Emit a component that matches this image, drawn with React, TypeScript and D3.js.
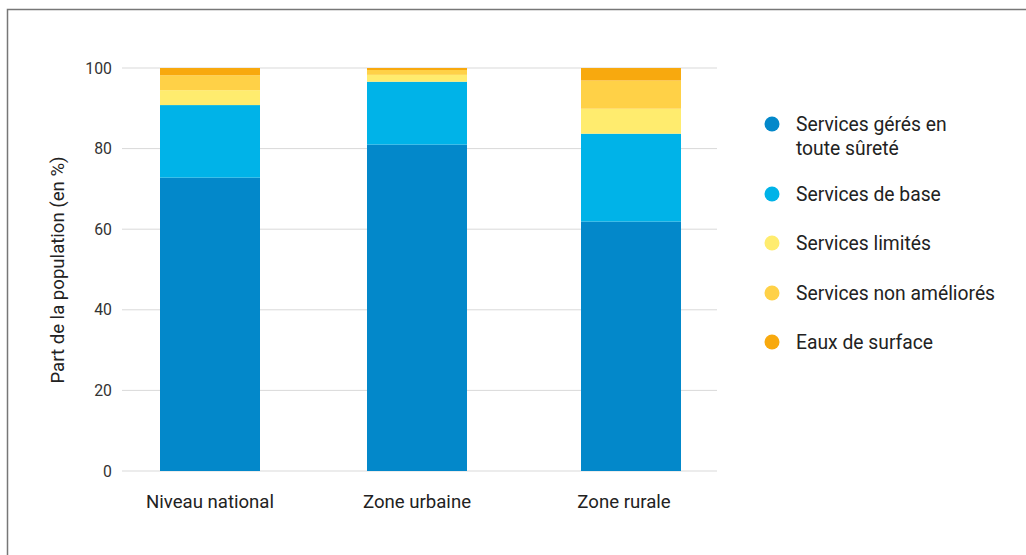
import React from "react";
import * as d3 from "d3";

const categories = ["Niveau national", "Zone urbaine", "Zone rurale"];
const seriesNames = [
  "Services gérés en toute sûreté",
  "Services de base",
  "Services limités",
  "Services non améliorés",
  "Eaux de surface",
];
const legendLines = [
  ["Services gérés en", "toute sûreté"],
  ["Services de base"],
  ["Services limités"],
  ["Services non améliorés"],
  ["Eaux de surface"],
];
const safelyManaged = [72.8, 81.0, 61.9];
const basic = [18.0, 15.6, 21.8];
const limited = [3.7, 1.7, 6.2];
const unimproved = [3.7, 1.2, 7.0];
const surface = [1.8, 0.5, 3.1];
const yTicks = [0, 20, 40, 60, 80, 100];
const colors = ["#0388ca", "#00b3e8", "#ffec6e", "#ffd147", "#f8a90e"];

export default function App() {
  const W = 1026, H = 555;
  const seriesValues = [safelyManaged, basic, limited, unimproved, surface];
  const data = categories.map((c, i) => {
    const o: any = { cat: c };
    seriesNames.forEach((s, j) => (o[s] = seriesValues[j][i]));
    return o;
  });
  const stack = d3.stack<any>().keys(seriesNames)(data);
  const y = d3.scaleLinear().domain([0, 100]).range([471, 68]);
  const x = d3.scaleOrdinal<string, number>().domain(categories).range([210, 417, 631]);
  const labelX = d3.scaleOrdinal<string, number>().domain(categories).range([210, 417, 624]);
  const bw = 100;
  const font = "Roboto, 'Noto Sans', sans-serif";
  return (
    <svg width={W} height={H} style={{ position: "absolute", left: 0, top: 0 }} fontFamily={font}>
      <rect x={0} y={0} width={W} height={H} fill="#fff" />
      <rect x={7.5} y={9.5} width={W + 10} height={H + 10} fill="none" stroke="#777" strokeWidth={1.5} />
      {yTicks.map((t) => (
        <g key={t}>
          <line x1={122} x2={717} y1={y(t)} y2={y(t)} stroke="#d9d9d9" strokeWidth={1} />
          <text x={112} y={y(t)} dy="0.35em" textAnchor="end" fontSize={15.8} fill="#333">
            {t}
          </text>
        </g>
      ))}
      {stack.map((s, j) => (
        <g key={s.key} fill={colors[j]}>
          {s.map((d, i) => (
            <rect
              key={i}
              x={x(categories[i]) - bw / 2}
              y={y(d[1])}
              width={bw}
              height={y(d[0]) - y(d[1])}
            />
          ))}
        </g>
      ))}
      {categories.map((c) => (
        <text key={c} x={labelX(c)} y={508} textAnchor="middle" fontSize={18.6} fill="#222">
          {c}
        </text>
      ))}
      <text
        transform="translate(64,270) rotate(-90)"
        textAnchor="middle"
        fontSize={18.6}
        fill="#222"
      >
        Part de la population (en %)
      </text>
      {legendLines.map((lines, j) => {
        const cy = [124, 194, 243, 293, 342][j];
        return (
          <g key={j}>
            <circle cx={772} cy={cy} r={7.5} fill={colors[j]} />
            {lines.map((l, k) => (
              <text key={k} x={796} y={cy + k * 24} dy="0.35em" fontSize={19.3} fill="#222">
                {l}
              </text>
            ))}
          </g>
        );
      })}
    </svg>
  );
}
